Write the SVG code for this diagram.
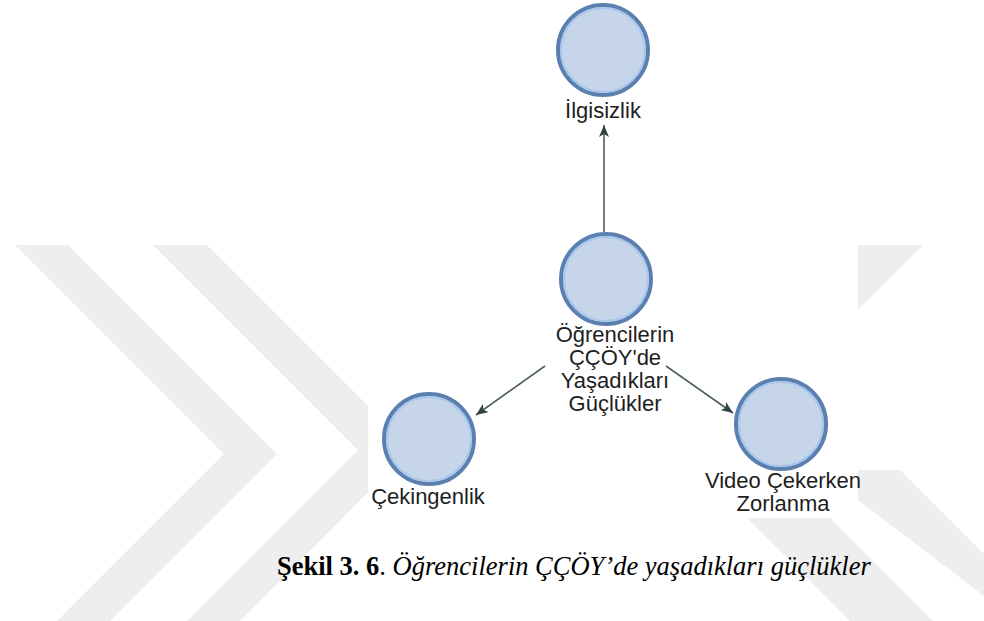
<svg xmlns="http://www.w3.org/2000/svg" width="984" height="621" viewBox="0 0 984 621">
  <defs>
    <style>
      .wm { fill: #eeeeee; }
      .node-ring { fill: #c6d5ea; stroke: #5b80b0; stroke-width: 4; }
      .node-inner { fill: none; stroke: #a9c7ec; stroke-width: 2; }
      .label { font-family: "Liberation Sans", Arial, sans-serif; font-size: 22px; fill: #1e1e1e; text-anchor: middle; }
      .edge { stroke: #4d6060; stroke-width: 1.6; fill: none; marker-end: url(#arrow); }
      .caption { font-family: "Liberation Serif", "Times New Roman", serif; font-size: 26.5px; fill: #000000; }
    </style>
    <marker id="arrow" viewBox="0 0 12 10" refX="12" refY="5" markerWidth="12" markerHeight="10" markerUnits="userSpaceOnUse" orient="auto">
      <path d="M0,0 L12,5 L0,10 L3,5 Z" fill="#2f4545"/>
    </marker>
  </defs>

  <rect width="984" height="621" fill="#ffffff"/>

  <!-- background emblem -->
  <g id="emblem">
    <polygon class="wm" points="15,245 68,245 277,454 110,621 57,621 224,454"/>
    <polygon class="wm" points="153,245 207,245 411,449 240,621 187,621 358,450"/>
    <polygon class="wm" points="860,245 923,245 858,310 858,245"/>
    <polygon class="wm" points="747,518 830,518 933,621 850,621"/>
    <polygon class="wm" points="858,470 900,470 984,554 984,596 858,500"/>
  </g>

  <!-- diagram panel -->
  <rect x="368" y="230" width="490" height="288" fill="#ffffff"/>

  <g id="connectors">
    <line class="edge" x1="604" y1="232" x2="604" y2="125"/>
    <line class="edge" x1="545" y1="366" x2="476" y2="415"/>
    <line class="edge" x1="666" y1="366" x2="733" y2="413"/>
  </g>

  <g id="node-ilgisizlik">
    <circle class="node-ring" cx="603" cy="50" r="45"/>
    <circle class="node-inner" cx="603" cy="50" r="42"/>
    <text class="label" x="603" y="118">İlgisizlik</text>
  </g>

  <g id="node-guclukler">
    <circle class="node-ring" cx="606" cy="279" r="45"/>
    <circle class="node-inner" cx="606" cy="279" r="42"/>
    <text class="label" x="615" y="342">Öğrencilerin</text>
    <text class="label" x="615" y="365">ÇÇÖY'de</text>
    <text class="label" x="615" y="388">Yaşadıkları</text>
    <text class="label" x="615" y="411">Güçlükler</text>
  </g>

  <g id="node-cekingenlik">
    <circle class="node-ring" cx="429" cy="439" r="45"/>
    <circle class="node-inner" cx="429" cy="439" r="42"/>
    <text class="label" x="428" y="504">Çekingenlik</text>
  </g>

  <g id="node-video">
    <circle class="node-ring" cx="781" cy="424" r="45"/>
    <circle class="node-inner" cx="781" cy="424" r="42"/>
    <text class="label" x="783" y="488">Video Çekerken</text>
    <text class="label" x="783" y="511">Zorlanma</text>
  </g>

  <text class="caption" x="277" y="575"><tspan font-weight="bold">Şekil 3. 6</tspan>. <tspan font-style="italic">Öğrencilerin ÇÇÖY’de yaşadıkları güçlükler</tspan></text>
</svg>
